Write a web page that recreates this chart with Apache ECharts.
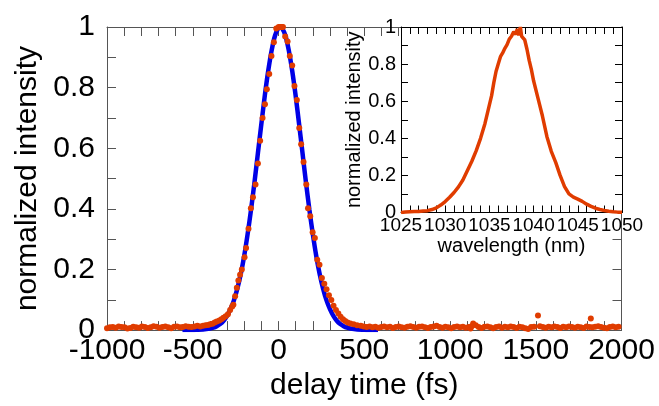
<!DOCTYPE html>
<html>
<head>
<meta charset="utf-8">
<script src="https://cdn.jsdelivr.net/npm/echarts@6/dist/echarts.min.js"></script>
<style>
html,body{margin:0;padding:0;background:#fff;}
#chart{width:659px;height:406px;}
</style>
</head>
<body>
<div id="chart"></div>
<script>
// ---- Main panel: autocorrelation trace (delay time in fs, normalized intensity)
var measuredTrace = [
 [-1000,0.006],[-983,0.009],[-966,0.010],[-949,0.008],[-932,0.012],[-915,0.010],[-898,0.009],[-881,0.005],
 [-864,0.007],[-847,0.011],[-830,0.009],[-813,0.008],[-796,0.012],[-779,0.010],[-762,0.007],[-745,0.009],
 [-728,0.013],[-711,0.011],[-694,0.008],[-677,0.010],[-660,0.012],[-643,0.009],[-626,0.006],[-609,0.011],
 [-592,0.012],[-575,0.009],[-558,0.010],[-541,0.013],[-524,0.011],[-507,0.010],[-490,0.012],[-473,0.014],
 [-456,0.012],[-440,0.014],[-425,0.016],[-411,0.017],[-399,0.019],[-385,0.021],[-372,0.025],[-360,0.028],
 [-345,0.032],[-333,0.036],[-321,0.041],[-308,0.046],[-295,0.052],[-282,0.066],[-270,0.078],[-263,0.084],
 [-253,0.112],[-243,0.140],[-234,0.164],[-224,0.183],[-214,0.200],[-198,0.240],[-189,0.271],[-175,0.334],
 [-161,0.402],[-149,0.438],[-134,0.480],[-120,0.550],[-107,0.625],[-93,0.700],[-79,0.745],[-68,0.795],
 [-54,0.845],[-41,0.904],[-27,0.950],[-13,0.995],[1,1.0],[8,1.0],[14,1.0],[20,1.0],[26,1.0],
 [39,0.969],[53,0.952],[66,0.904],[80,0.873],[93,0.805],[107,0.759],[121,0.667],[132,0.613],[146,0.555],
 [162,0.480],[172,0.402],[185,0.376],[199,0.323],[212,0.304],[226,0.232],[239,0.216],[253,0.172],[267,0.153],
 [280,0.135],[294,0.115],[308,0.099],[321,0.080],[335,0.066],[349,0.055],[362,0.044],[376,0.036],[389,0.030],
 [403,0.025],[419,0.022],[438,0.019],[458,0.016],
 [480,0.014],[497,0.012],[514,0.010],[531,0.012],[548,0.009],[565,0.011],[582,0.008],[599,0.010],[616,0.012],
 [633,0.009],[650,0.011],[667,0.007],[684,0.010],[701,0.012],[718,0.009],[735,0.008],[752,0.011],[769,0.013],
 [786,0.010],[803,0.008],[820,0.011],[837,0.012],[854,0.009],[871,0.007],[888,0.010],[905,0.012],[922,0.014],
 [939,0.010],[956,0.008],[973,0.011],[990,0.009],[1007,0.006],[1024,0.010],[1041,0.012],[1058,0.009],[1075,0.011],
 [1092,0.008],[1109,0.010],[1120,0.005],[1126,0.013],[1135,0.022],[1150,0.016],[1167,0.010],[1184,0.007],[1201,0.011],
 [1218,0.012],[1235,0.009],[1252,0.006],[1269,0.010],[1286,0.012],[1303,0.008],[1320,0.011],[1337,0.009],[1354,0.012],
 [1371,0.010],[1388,0.007],[1405,0.011],[1422,0.009],[1439,0.006],[1456,0.004],[1473,0.010],[1490,0.011],[1513,0.048],
 [1524,0.013],[1541,0.010],[1558,0.008],[1575,0.011],[1592,0.009],[1609,0.012],[1626,0.010],[1643,0.007],[1660,0.011],
 [1677,0.009],[1694,0.012],[1711,0.010],[1728,0.008],[1745,0.011],[1762,0.009],[1779,0.007],[1796,0.012],[1813,0.010],
 [1821,0.038],[1830,0.009],[1847,0.011],[1864,0.013],[1881,0.010],[1898,0.008],[1915,0.006],[1932,0.010],[1949,0.012],
 [1966,0.009],[1983,0.011]
];
var fitCurve = [
 [-560,0.000],[-520,0.000],[-480,0.001],[-440,0.002],[-400,0.005],[-380,0.008],[-360,0.013],[-340,0.020],
 [-320,0.031],[-300,0.047],[-280,0.069],[-260,0.098],[-240,0.137],[-220,0.185],[-200,0.245],[-180,0.317],
 [-160,0.398],[-140,0.488],[-120,0.584],[-100,0.680],[-80,0.773],[-60,0.855],[-40,0.923],[-20,0.972],
 [0,0.997],[10,1.000],[20,0.997],[40,0.972],[60,0.923],[80,0.855],[100,0.773],[120,0.680],[140,0.584],
 [160,0.488],[180,0.398],[200,0.317],[220,0.245],[240,0.185],[260,0.137],[280,0.098],[300,0.069],[320,0.047],
 [340,0.031],[360,0.020],[380,0.013],[400,0.008],[420,0.005],[460,0.002],[500,0.001],[540,0.000],[580,0.000]
];
// ---- Inset: spectrum (wavelength in nm, normalized intensity)
var spectrum = [
 [1025.0,0.000],[1025.5,0.003],[1026.0,0.004],[1026.5,0.005],[1027.0,0.006],[1027.5,0.008],[1028.0,0.010],
 [1028.5,0.016],[1029.0,0.025],[1029.5,0.040],[1030.0,0.059],[1030.5,0.082],[1031.0,0.108],[1031.5,0.138],
 [1032.0,0.175],[1032.5,0.225],[1033.0,0.275],[1033.5,0.332],[1034.0,0.400],[1034.5,0.480],[1035.0,0.580],
 [1035.25,0.630],[1035.5,0.700],[1035.75,0.760],[1036.0,0.800],[1036.25,0.840],[1036.5,0.860],[1036.75,0.885],
 [1037.0,0.905],[1037.25,0.935],[1037.5,0.950],[1037.75,0.975],[1038.0,0.960],[1038.15,0.990],[1038.3,0.955],
 [1038.5,1.000],[1038.65,0.950],[1038.8,0.960],[1039.0,0.930],[1039.25,0.880],[1039.5,0.820],[1039.75,0.770],
 [1040.0,0.710],[1040.5,0.615],[1041.0,0.520],[1041.5,0.410],[1042.0,0.330],[1042.5,0.270],[1043.0,0.200],
 [1043.5,0.140],[1044.0,0.100],[1044.5,0.083],[1045.0,0.072],[1045.5,0.060],[1046.0,0.045],[1046.5,0.033],
 [1047.0,0.023],[1047.5,0.016],[1048.0,0.011],[1048.5,0.007],[1049.0,0.004],[1049.5,0.002],[1050.0,0.002]
];
var mainXLabels = ['-1000','-500','0','500','1000','1500','2000'];
var yLabels = ['0','0.2','0.4','0.6','0.8','1'];
var insetXLabels = ['1025','1030','1035','1040','1045','1050'];

var FONT = '"Liberation Sans", Arial, Helvetica, sans-serif';
var ORANGE = '#e03c00';
var BLUE = '#0000e6';
var MAINAX = '#555';

function boxAxis(grid, pos, min, max, interval, minorSplit, color, tickLen, z) {
  return {
    type: 'value', gridIndex: grid, position: pos, min: min, max: max, interval: interval,
    axisLine: { show: true, onZero: false, lineStyle: { color: color, width: 1 } },
    axisTick: { show: true, inside: true, length: tickLen, lineStyle: { color: color } },
    minorTick: { show: minorSplit > 1, splitNumber: minorSplit, length: tickLen, lineStyle: { color: color } },
    axisLabel: { show: false },
    splitLine: { show: false }, minorSplitLine: { show: false },
    z: z
  };
}

var chart = echarts.init(document.getElementById('chart'), null, { renderer: 'canvas' });

var xMain = boxAxis(0, 'bottom', -1000, 2000, 500, 5, MAINAX, 9, 1);
xMain.axisLabel = { show: true, fontSize: 30, fontFamily: FONT, color: '#000', margin: 6,
  showMinLabel: true, showMaxLabel: true,
  formatter: function (v) { var i = Math.round((v + 1000) / 500); return mainXLabels[i]; } };
xMain.name = 'delay time (fs)';
xMain.nameLocation = 'middle';
xMain.nameGap = 34;
xMain.nameTextStyle = { fontSize: 30, fontFamily: FONT, color: '#000' };

var xMainTop = boxAxis(0, 'top', -1000, 2000, 500, 5, MAINAX, 9, 1);

var yMain = boxAxis(0, 'left', 0, 1, 0.2, 2, MAINAX, 9, 1);
yMain.axisLabel = { show: true, fontSize: 30, fontFamily: FONT, color: '#000', margin: 12,
  showMinLabel: true, showMaxLabel: true,
  formatter: function (v) { return yLabels[Math.round(v / 0.2)]; } };
yMain.name = 'normalized intensity';
yMain.nameLocation = 'middle';
yMain.nameGap = 63;
yMain.nameTextStyle = { fontSize: 30, fontFamily: FONT, color: '#000' };

var yMainRight = boxAxis(0, 'right', 0, 1, 0.1, 1, MAINAX, 9, 1);

var xIn = boxAxis(1, 'bottom', 1025, 1050, 5, 5, '#000', 7, 11);
xIn.axisLabel = { show: true, fontSize: 19, fontFamily: FONT, color: '#000', margin: 4,
  showMinLabel: true, showMaxLabel: true,
  formatter: function (v) { return insetXLabels[Math.round((v - 1025) / 5)]; } };
xIn.name = 'wavelength (nm)';
xIn.nameLocation = 'middle';
xIn.nameGap = 18;
xIn.nameTextStyle = { fontSize: 20, fontFamily: FONT, color: '#000' };

var xInTop = boxAxis(1, 'top', 1025, 1050, 5, 5, '#000', 7, 11);

var yIn = boxAxis(1, 'left', 0, 1, 0.2, 2, '#000', 7, 11);
yIn.axisLabel = { show: true, fontSize: 20, fontFamily: FONT, color: '#000', margin: 5,
  showMinLabel: true, showMaxLabel: true,
  formatter: function (v) { return yLabels[Math.round(v / 0.2)]; } };
yIn.name = 'normalized intensity';
yIn.nameLocation = 'middle';
yIn.nameGap = 35;
yIn.nameTextStyle = { fontSize: 20, fontFamily: FONT, color: '#000' };

var yInRight = boxAxis(1, 'right', 0, 1, 0.2, 2, '#000', 7, 11);

chart.setOption({
  animation: false,
  backgroundColor: '#fff',
  grid: [
    { left: 107, top: 27, right: 37.5, bottom: 74, show: false, containLabel: false },
    { left: 401, top: 27, right: 37, bottom: 193.5, show: true, backgroundColor: '#fff',
      borderWidth: 0, z: 10, containLabel: false }
  ],
  xAxis: [xMain, xMainTop, xIn, xInTop],
  yAxis: [yMain, yMainRight, yIn, yInRight],
  series: [
    { type: 'line', xAxisIndex: 0, yAxisIndex: 0, data: fitCurve, showSymbol: false, smooth: 0.3,
      lineStyle: { color: BLUE, width: 4.5 }, itemStyle: { color: BLUE }, z: 2, silent: true },
    { type: 'scatter', xAxisIndex: 0, yAxisIndex: 0, data: measuredTrace, symbol: 'circle', symbolSize: 6,
      itemStyle: { color: ORANGE, opacity: 1 }, z: 3, silent: true },
    { type: 'line', xAxisIndex: 2, yAxisIndex: 2, data: spectrum, showSymbol: false,
      lineStyle: { color: ORANGE, width: 3.5 }, itemStyle: { color: ORANGE }, z: 12, silent: true }
  ]
});
</script>
</body>
</html>
